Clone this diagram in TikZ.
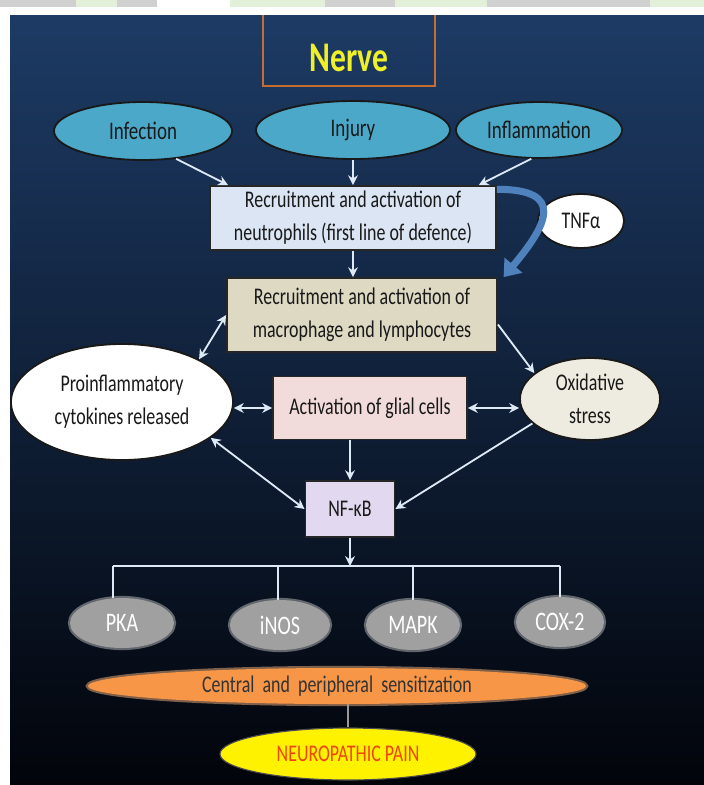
\documentclass[tikz,border=0pt]{standalone}
\usepackage{fontspec}
\setmainfont{Carlito}[FakeStretch=0.75]
\usepackage{tikz}
\usetikzlibrary{shapes.geometric,arrows.meta,calc}

\definecolor{panelTop}{RGB}{29,59,101}
\definecolor{panelMid}{RGB}{24,48,86}
\definecolor{panelBot}{RGB}{2,4,10}
\definecolor{nerveEdge}{RGB}{196,110,52}
\definecolor{nerveText}{RGB}{240,240,40}
\definecolor{aqua}{RGB}{75,168,200}
\definecolor{boxBlue}{RGB}{219,229,243}
\definecolor{boxTan}{RGB}{221,217,195}
\definecolor{boxPink}{RGB}{242,220,219}
\definecolor{boxLilac}{RGB}{226,216,240}
\definecolor{ivory}{RGB}{238,236,225}
\definecolor{linkWhite}{RGB}{222,233,246}
\definecolor{tnfBlue}{RGB}{79,129,189}
\definecolor{greyOval}{RGB}{160,160,160}
\definecolor{orangeOval}{RGB}{247,150,70}
\definecolor{painRed}{RGB}{238,70,10}
\definecolor{stripGrey}{RGB}{208,208,208}
\definecolor{stripGreen}{RGB}{226,239,217}

\begin{document}
\begin{tikzpicture}[x=0.025cm,y=-0.025cm,
    flow/.style={draw=black!85,line width=1.3pt,fill=#1,text=black!90,align=center,inner sep=0pt,
        font=\fontsize{17}{23.5}\selectfont},
    oval/.style={ellipse,draw=black!90,line width=1.3pt,fill=#1,text=black!90,align=center,inner sep=0pt,
        font=\fontsize{17}{23.5}\selectfont},
    cause/.style={oval=aqua,font=\fontsize{18}{22}\selectfont},
    enzyme/.style={ellipse,fill=greyOval,text=white,inner sep=0pt,minimum height=1.25cm,
        preaction={draw=greyOval!70,line width=3pt,opacity=0.5},font=\fontsize{19}{22}\selectfont},
    nervebox/.style={draw=nerveEdge,line width=2pt,text=nerveText,inner sep=0pt,
        minimum width=4.3cm,minimum height=2cm,text height=1.25cm,text depth=0pt,
        font=\fontsize{30}{32}\selectfont\bfseries},
    arr/.style={draw=linkWhite,line width=1.3pt,-{Stealth[length=7pt,width=7pt]}},
    darr/.style={arr,{Stealth[length=7pt,width=7pt]}-{Stealth[length=7pt,width=7pt]}},
    wire/.style={draw=linkWhite,line width=1.8pt}
]
\useasboundingbox (0,0) rectangle (704,785);
\fill[white] (0,0) rectangle (704,785);
\shade[top color=panelTop,middle color=panelMid,bottom color=panelBot] (10,15) rectangle (704,785);

% title and causes
\node (nerve) [nervebox] at (349,46) {Nerve};
\node (inf) [cause,minimum width=4.45cm,minimum height=1.45cm] at (143,131) {Infection};
\node (inj) [cause,minimum width=4.85cm,minimum height=1.45cm] at (353,130) {Injury};
\node (infl) [cause,minimum width=4.15cm,minimum height=1.4cm] at (539,130) {Inflammation};

% cells
\node (neut) [flow=boxBlue,minimum width=7.15cm,minimum height=1.6cm] at (353,218)
    {Recruitment and activation of\\neutrophils (first line of defence)};
\node (tnf) [oval=white,minimum width=2.15cm,minimum height=1.35cm] at (581,221) {TNFα};
\node (macro) [flow=boxTan,minimum width=6.75cm,minimum height=1.85cm] at (362,315)
    {Recruitment and activation of\\macrophage and lymphocytes};
\node (cyto) [oval=white,minimum width=5.55cm,minimum height=2.9cm] at (122,402)
    {Proinflammatory\\cytokines released};
\node (glia) [flow=boxPink,minimum width=4.85cm,minimum height=1.575cm] at (370,408)
    {Activation of glial cells};
\node (oxi) [oval=ivory,minimum width=3.5cm,minimum height=2.05cm] at (590,399)
    {Oxidative\\stress};
\node (nfkb) [flow=boxLilac,minimum width=2.225cm,minimum height=1.4cm] at (350,509) {NF-κB};

% mediators
\coordinate (fork) at (350,566);
\node (pka) [enzyme,minimum width=2.6cm] at (122,623) {PKA};
\node (inos) [enzyme,minimum width=2.5cm] at (280,625) {iNOS};
\node (mapk) [enzyme,minimum width=2.35cm] at (413,625) {MAPK};
\node (cox) [enzyme,minimum width=2.2cm] at (560,622) {COX-2};
\node (sens) [ellipse,fill=orangeOval,text=black!80,inner sep=0pt,minimum width=12.45cm,minimum height=0.9cm,
    preaction={draw=orangeOval!70,line width=3pt,opacity=0.5},font=\fontsize{17}{20}\selectfont]
    at (337,686) {Central \ and \ peripheral \ sensitization};
\node (pain) [ellipse,draw=black!70,line width=0.8pt,fill=yellow,text=painRed,inner sep=0pt,
    minimum width=6.4cm,minimum height=1.3cm,font=\fontsize{17}{20}\selectfont] at (348,754) {NEUROPATHIC PAIN};

% links
\draw[arr] (inf.-40) -- ($(neut.north west)!0.066!(neut.north east)$);
\draw[arr] (inj.south) -- (inj.south |- neut.north);
\draw[arr] (infl.-105) -- ($(neut.north east)!0.063!(neut.north west)$);
\draw[arr] (neut.south) -- (neut.south |- macro.north);
\draw[tnfBlue,line width=5pt,-{Triangle[length=11pt,width=16pt]}]
    ([yshift=-3pt]neut.north east) to[out=0,in=50,looseness=2] ([xshift=4pt]macro.north east);
\draw[darr] (cyto.29) -- (macro.west);
\draw[arr] (macro.-4) -- (oxi.155);
\draw[darr] (glia.west -| cyto.east) -- (glia.west);
\draw[darr] (glia.east) -- (glia.east -| oxi.west);
\draw[arr] (glia.south -| nfkb.north) -- (nfkb.north);
\draw[darr] (cyto.-22) -- (nfkb.west);
\draw[arr] (oxi.-157) -- (nfkb.east);
\draw[arr] (nfkb.south) -- (fork);
\draw[wire] (pka.110 |- fork) -- (cox.north |- fork);
\foreach \m/\a in {pka/110,inos/95,mapk/90,cox/90}
    \draw[wire] (\m.\a |- fork) -- (\m.\a);
\draw[wire,line width=1.5pt,draw=black!40] (pain.north |- sens.south) -- (pain.north);

% cropped page strip
\fill[white] (0,0) rectangle (704,15);
\foreach \a/\b/\c in {0/76/stripGrey,76/117/stripGreen,117/157/stripGrey,157/230/white,
    230/325/stripGreen,325/395/stripGrey,395/487/stripGreen,487/557/stripGrey,
    557/650/stripGrey,650/704/stripGreen}
    \fill[\c] (\a,0) rectangle (\b,7);
\end{tikzpicture}
\end{document}
